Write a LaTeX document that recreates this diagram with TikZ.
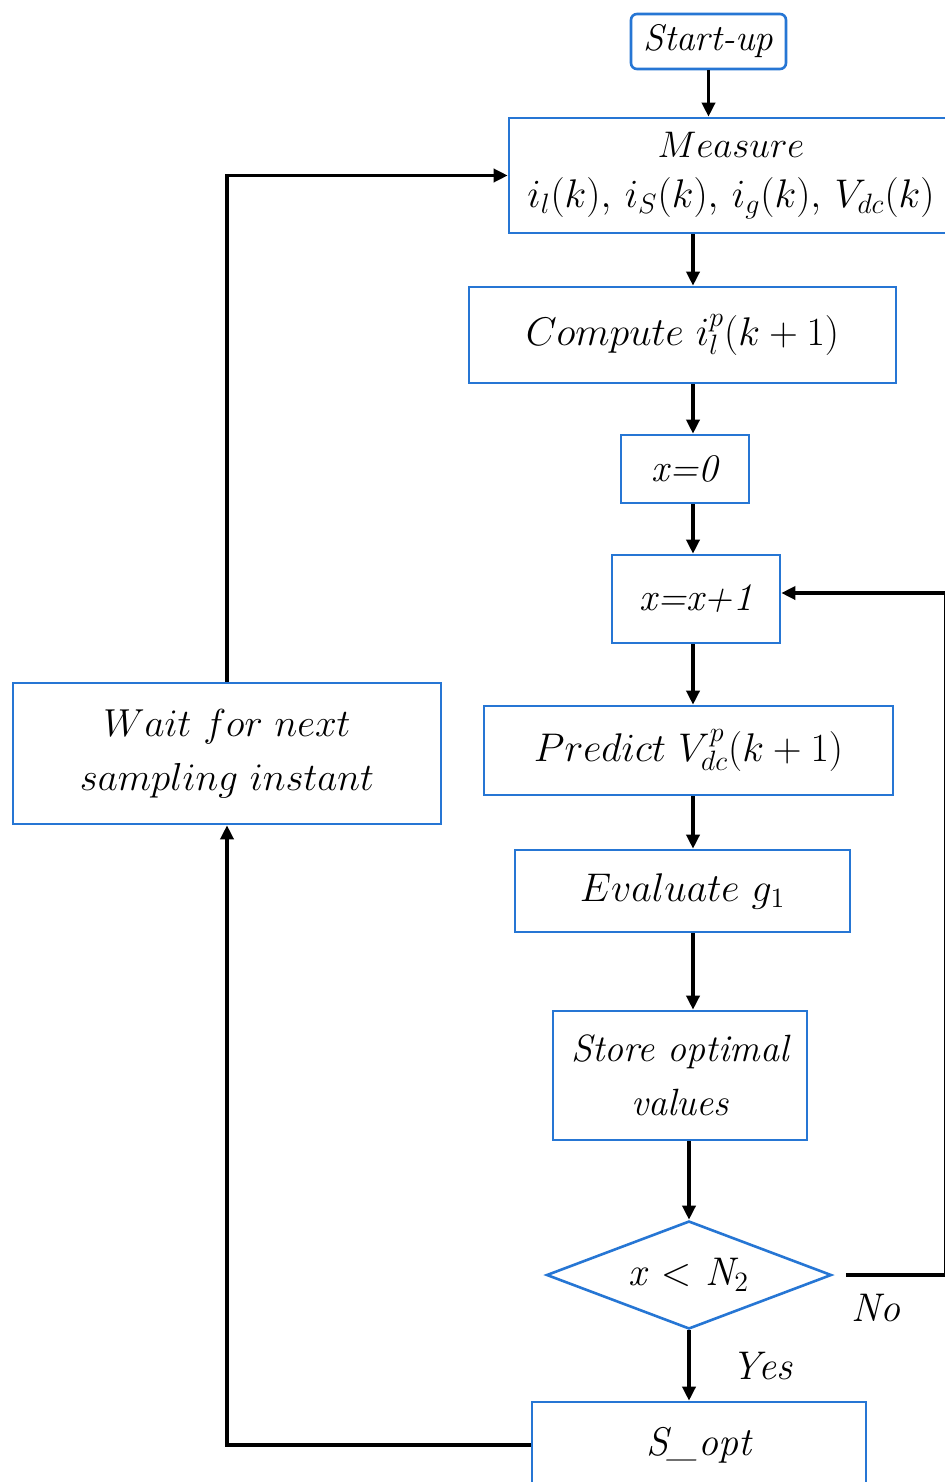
\RequirePackage{fix-cm}
\documentclass[tikz,border=0pt]{standalone}
\usepackage{fontspec}
\usetikzlibrary{arrows.meta,shapes.geometric}
\definecolor{boxblue}{RGB}{38,118,212}
\tikzset{
  box/.style={draw=boxblue, line width=1.3pt, fill=white, inner sep=0pt, align=center},
  conn/.style={line width=1.7pt, draw=black},
  arr/.style={conn, -{Triangle[length=7pt,width=6.5pt]}},
  lbl/.style={inner sep=0pt, font=\fontsize{20}{26}\selectfont\itshape}
}
\begin{document}
\begin{tikzpicture}[x=0.5pt,y=-0.5pt]
\useasboundingbox (0,0) rectangle (945,1482);
\clip (0,0) rectangle (945,1482);
\fill[white] (0,0) rectangle (945,1482);
\coordinate (col) at (693,0);
\coordinate (rx) at (946,0);

\node[box, rounded corners=3pt, minimum width=77.5pt, minimum height=27.5pt, font=\fontsize{18.5}{26}\selectfont\itshape] (start) at (708.5,41.5) {Start-up};
\node[box, minimum width=222pt, minimum height=57.5pt, font=\fontsize{18.5}{27}\selectfont] (measure) at (731,175.5) {$Measure$\\[-2pt]{\fontsize{20}{24}\selectfont$i_l(k),\,i_S(k),\,i_g(k),\,V_{dc}(k)$}};
\node[box, minimum width=213.5pt, minimum height=48pt, font=\fontsize{20}{26}\selectfont] (compute) at (682.5,335) {$Compute\ i_l^p(k+1)$};
\node[box, minimum width=64pt, minimum height=34pt, font=\fontsize{19.5}{26}\selectfont\itshape] (x0) at (685,469) {x=0};
\node[box, minimum width=84pt, minimum height=44pt, font=\fontsize{19.5}{26}\selectfont\itshape] (xinc) at (696,599) {x=x+1};
\node[box, minimum width=204.5pt, minimum height=44.5pt, font=\fontsize{20}{26}\selectfont] (predict) at (688.5,750.5) {$Predict\ V_{dc}^p(k+1)$};
\node[box, minimum width=167.5pt, minimum height=41pt, font=\fontsize{20}{26}\selectfont] (eval) at (682.5,891) {$Evaluate\ g_1$};
\node[box, minimum width=127pt, minimum height=64.5pt, font=\fontsize{19}{27}\selectfont\itshape] (store) at (680,1075.5) {Store optimal\\values};
\node[box, shape=diamond, aspect=2.6, minimum width=142.5pt, minimum height=54pt, font=\fontsize{20}{26}\selectfont\itshape] (dia) at (689,1275) {x $<$ N\textsubscript{\upshape 2}};
\node[box, minimum width=167pt, minimum height=43pt, font=\fontsize{20}{28}\selectfont\itshape] (sopt) at (699,1445) {S\_opt};
\node[box, minimum width=214pt, minimum height=70.5pt, font=\fontsize{19.5}{28}\selectfont] (wait) at (227,753.5) {$Wait\ for\ next$\\[-1pt]$sampling\ instant$};

\node[lbl] (no) at (876,1308) {No};
\node[lbl] (yes) at (762,1366) {Yes};

\draw[arr] (start.south) -- (start.south |- measure.north);
\draw[arr] (measure.south -| col) -- (compute.north -| col);
\draw[arr] (compute.south -| col) -- (x0.north -| col);
\draw[arr] (x0.south -| col) -- (xinc.north -| col);
\draw[arr] (xinc.south -| col) -- (predict.north -| col);
\draw[arr] (predict.south -| col) -- (eval.north -| col);
\draw[arr] (eval.south -| col) -- (store.north -| col);
\draw[arr] (store.south -| dia.north) -- (dia.north);
\draw[arr] (dia.south) -- (dia.south |- sopt.north);
\draw[arr] ([xshift=6.5pt]dia.east) -- (dia.east -| rx) -- ([yshift=3pt]xinc.east -| rx) -- ([yshift=3pt]xinc.east);
\draw[arr] (sopt.west) -- (sopt.west -| wait.south) -- (wait.south);
\draw[arr] (wait.north) -- (wait.north |- measure.west) -- (measure.west);
\end{tikzpicture}
\end{document}
